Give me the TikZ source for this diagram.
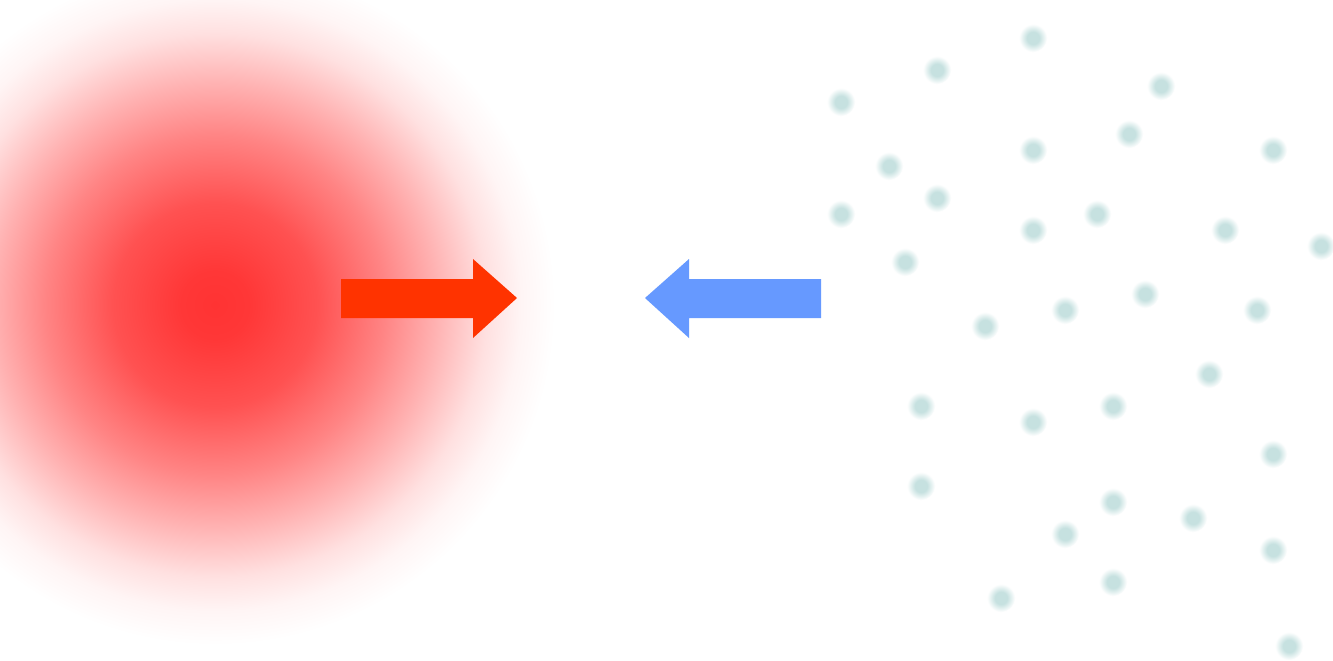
\documentclass[tikz,border=0pt]{standalone}
\definecolor{blobred}{HTML}{FF3333}
\definecolor{arrowred}{HTML}{FF3300}
\definecolor{arrowblue}{HTML}{6699FF}
\definecolor{dotteal}{HTML}{C6E1E0}
% soft radial fades, rim (25bp) = white
\pgfdeclareradialshading{blobfade}{\pgfpoint{0bp}{0bp}}{%
  color(0bp)=(blobred); color(2.5bp)=(blobred!98!white);
  color(7.5bp)=(blobred!85!white); color(12.5bp)=(blobred!60!white);
  color(16.25bp)=(blobred!38!white); color(20bp)=(blobred!15!white);
  color(22.5bp)=(blobred!5!white); color(25bp)=(white); color(50bp)=(white)}
\pgfdeclareradialshading{dotfade}{\pgfpoint{0bp}{0bp}}{%
  color(0bp)=(dotteal); color(11bp)=(dotteal); color(25bp)=(white);
  color(50bp)=(white)}
\begin{document}
\begin{tikzpicture}[x=0.5pt, y=-0.5pt, line join=miter]
  \useasboundingbox (0,0) rectangle (1333,660);
  \fill[white] (0,0) rectangle (1333,660);

  % ---- Red cloud ----
  \coordinate (cloud) at (215,305);
  \begin{scope}
    \clip (0,0) rectangle (1333,660);
    \shade[shading=blobfade] (cloud) circle (340);
  \end{scope}

  % ---- Teal particles ----
  \foreach \px/\py in {1033/38, 937/70, 841/102, 1161/86, 889/166, 1033/150,
                       1129/134, 1273/150, 841/214, 937/198, 1033/230, 1097/214,
                       1225/230, 1321/246, 905/262, 985/326, 1065/310, 1145/294,
                       1257/310, 1209/374, 921/406, 1033/422, 1113/406, 1273/454,
                       921/486, 1113/502, 1193/518, 1065/534, 1273/550, 1001/598,
                       1113/582, 1289/646}
    \shade[shading=dotfade] (\px,\py) circle (14);

  % ---- Arrows ----
  % red: tail 341, tip 517; blue: tail 821, tip 645
  \coordinate (redtail)  at (341,298);
  \coordinate (redtip)   at (517,298);
  \coordinate (bluetail) at (821,298);
  \coordinate (bluetip)  at (645,298);
  \fill[arrowred]  (341,279) -- (473,279) -- (473,259) -- (redtip)
                   -- (473,338) -- (473,318) -- (341,318) -- cycle;
  \fill[arrowblue] (821,279) -- (689,279) -- (689,259) -- (bluetip)
                   -- (689,338) -- (689,318) -- (821,318) -- cycle;
\end{tikzpicture}
\end{document}
